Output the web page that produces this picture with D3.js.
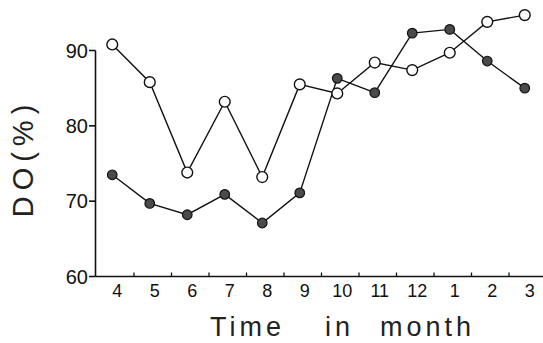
<!DOCTYPE html>
<html lang="en">
<head>
    <meta charset="utf-8">
    <title>DO over time</title>
    <script type="text/javascript" src="https://d3js.org/d3.v7.min.js"></script>
    <style type="text/css">
        body { margin: 0; background: #fff; }
        svg { font-family: "Liberation Sans", Arial, sans-serif; }
    </style>
</head>
<body>
<script type="text/javascript">

    var months = ["4", "5", "6", "7", "8", "9", "10", "11", "12", "1", "2", "3"];
    var openValues = [90.8, 85.8, 73.8, 83.2, 73.2, 85.5, 84.3, 88.4, 87.4, 89.7, 93.8, 94.7];
    var filledValues = [73.5, 69.7, 68.2, 70.9, 67.1, 71.1, 86.3, 84.4, 92.3, 92.8, 88.6, 85.0];
    var yTicks = [60, 70, 80, 90];

    var width = 543, height = 343;

    var svg = d3.select("body")
        .append("svg")
        .attr("width", width)
        .attr("height", height);

    var x = d3.scaleBand()
        .domain(months)
        .range([96.5, 96.5 + 37.5 * 12]);

    var y = d3.scaleLinear()
        .domain([60, 90])
        .range([276.5, 50.5]);

    // points sit a little left of the band centre in the original
    function px(i) { return x(months[i]) + x.bandwidth() / 2 - 3; }

    // y axis
    svg.append("line")
        .attr("x1", 95.5).attr("x2", 95.5)
        .attr("y1", y(90)).attr("y2", y(60))
        .attr("stroke", "#111").attr("stroke-width", 1.6);

    svg.selectAll(".ytick")
        .data(yTicks)
        .enter()
        .append("line")
        .attr("x1", 89).attr("x2", 95.5)
        .attr("y1", function(d) { return y(d); })
        .attr("y2", function(d) { return y(d); })
        .attr("stroke", "#111").attr("stroke-width", 1.6);

    svg.selectAll(".ylab")
        .data(yTicks)
        .enter()
        .append("text")
        .attr("x", 88)
        .attr("y", function(d) { return y(d); })
        .attr("dy", "0.36em")
        .attr("text-anchor", "end")
        .attr("font-size", 20)
        .attr("fill", "#111")
        .text(function(d) { return d; });

    // x axis
    svg.append("line")
        .attr("x1", 95.5).attr("x2", width)
        .attr("y1", y(60)).attr("y2", y(60))
        .attr("stroke", "#111").attr("stroke-width", 1.6);

    svg.selectAll(".xtick")
        .data(months.slice(1))
        .enter()
        .append("line")
        .attr("x1", function(d) { return x(d); })
        .attr("x2", function(d) { return x(d); })
        .attr("y1", y(60) - 4).attr("y2", y(60))
        .attr("stroke", "#111").attr("stroke-width", 1.3);

    svg.selectAll(".xlab")
        .data(months)
        .enter()
        .append("text")
        .attr("x", function(d) { return x(d) + x.bandwidth() / 2 + 2; })
        .attr("y", 297)
        .attr("text-anchor", "middle")
        .attr("font-size", 18)
        .attr("fill", "#111")
        .text(function(d) { return d; });

    // axis titles
    var title = svg.append("text")
        .attr("y", 336)
        .attr("font-size", 27)
        .attr("fill", "#222");
    title.append("tspan").attr("x", 210).attr("letter-spacing", 4).text("Time");
    title.append("tspan").attr("x", 325).attr("letter-spacing", 4).text("in");
    title.append("tspan").attr("x", 380).attr("letter-spacing", 4).text("month");

    svg.append("text")
        .attr("transform", "translate(33,158) rotate(-90)")
        .attr("text-anchor", "middle")
        .attr("font-size", 29)
        .attr("letter-spacing", 6)
        .attr("fill", "#222")
        .text("DO(%)");

    // lines
    var line = d3.line()
        .x(function(d, i) { return px(i); })
        .y(function(d) { return y(d); });

    [filledValues, openValues].forEach(function(vals) {
        svg.append("path")
            .datum(vals)
            .attr("d", line)
            .attr("fill", "none")
            .attr("stroke", "#111")
            .attr("stroke-width", 1.4);
    });

    svg.selectAll(".filled")
        .data(filledValues)
        .enter()
        .append("circle")
        .attr("cx", function(d, i) { return px(i); })
        .attr("cy", function(d) { return y(d); })
        .attr("r", 4.8)
        .attr("fill", "#4a4a4a")
        .attr("stroke", "#111")
        .attr("stroke-width", 1.2);

    svg.selectAll(".open")
        .data(openValues)
        .enter()
        .append("circle")
        .attr("cx", function(d, i) { return px(i); })
        .attr("cy", function(d) { return y(d); })
        .attr("r", 5.4)
        .attr("fill", "#fff")
        .attr("stroke", "#111")
        .attr("stroke-width", 1.4);

</script>
</body>
</html>
